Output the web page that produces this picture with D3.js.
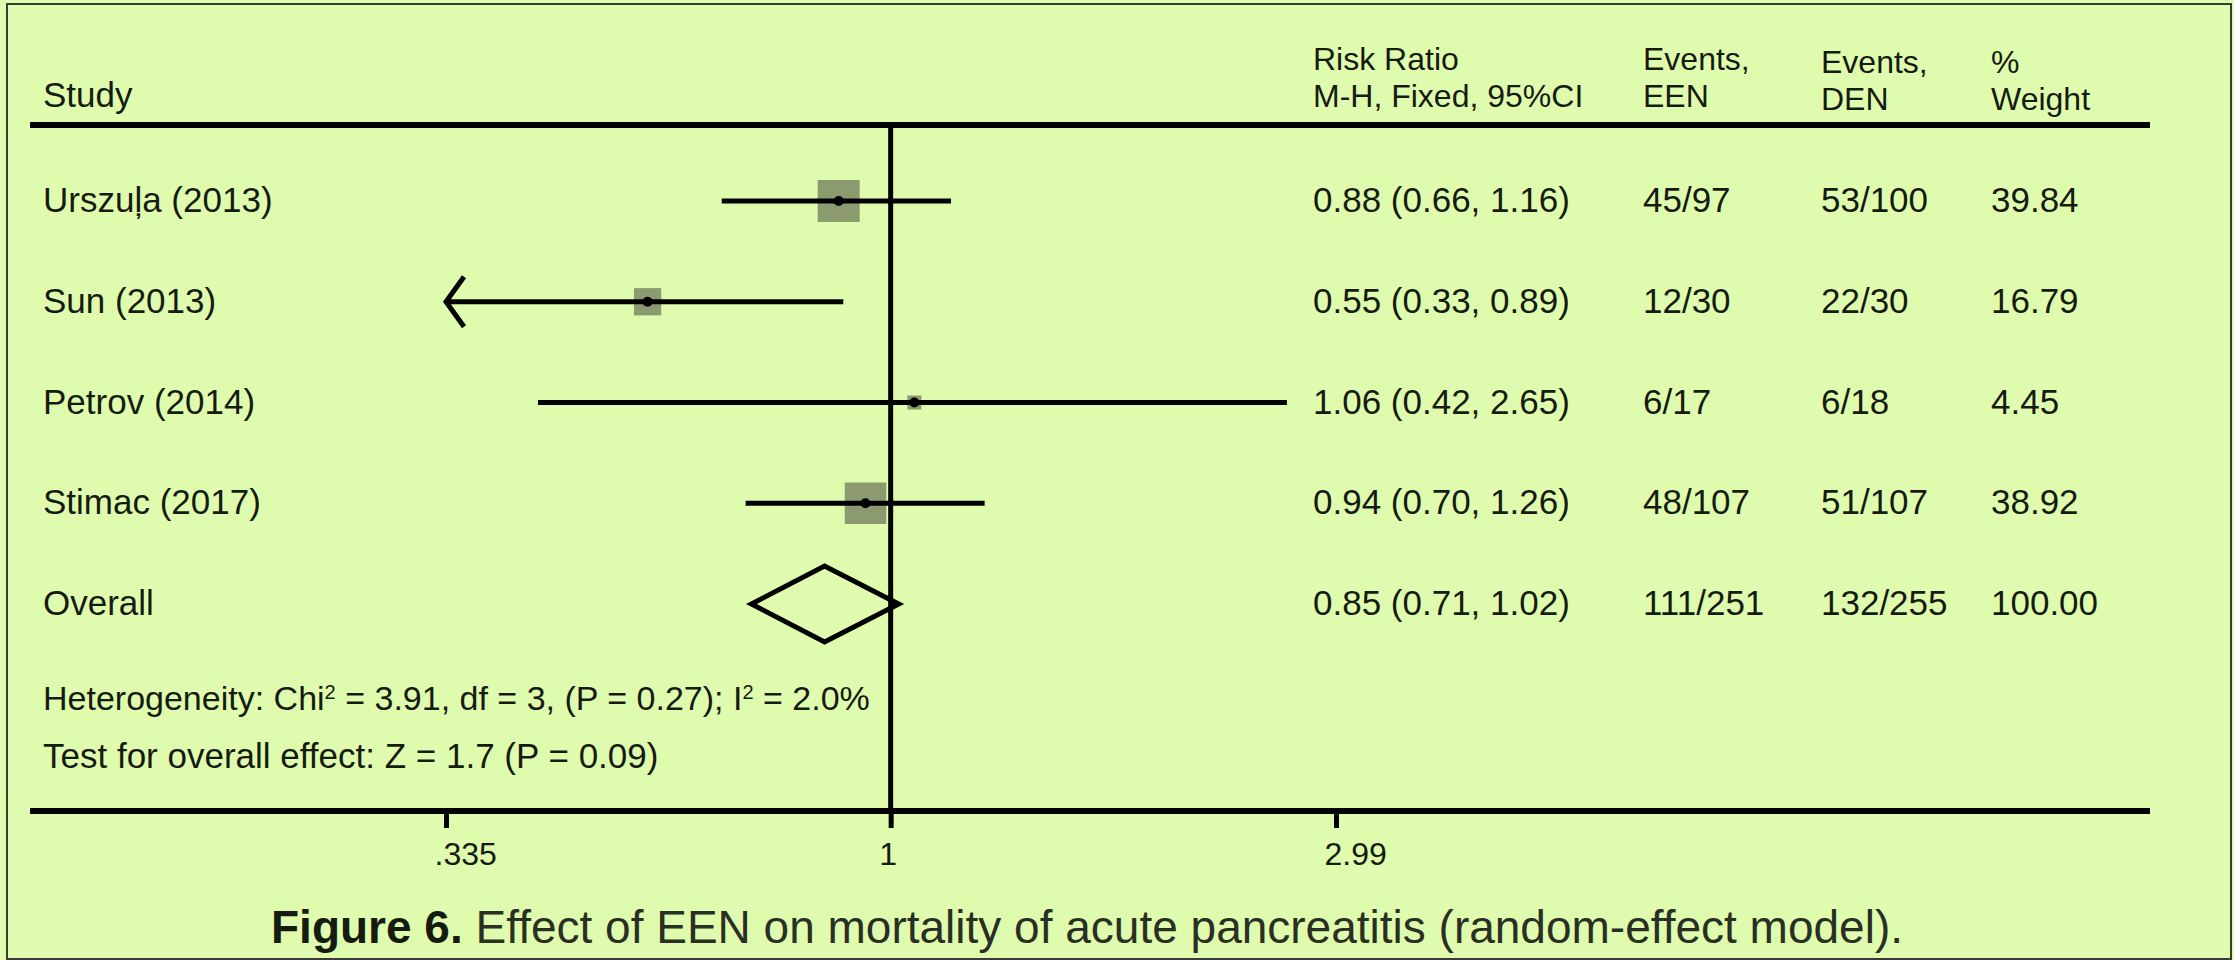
<!DOCTYPE html>
<html>
<head>
<meta charset="utf-8">
<script src="https://cdn.jsdelivr.net/npm/d3@7"></script>
<style>
  html, body { margin: 0; padding: 0; background: #dffbad; }
  svg { display: block; }
  text { font-family: "Liberation Sans", Arial, sans-serif; fill: #161b12; }
</style>
</head>
<body>
<svg id="chart" width="2234" height="960"></svg>
<script>
// Study-level data
const studies   = ["Urszuļa (2013)", "Sun (2013)", "Petrov (2014)", "Stimac (2017)"];
const riskRatio = [0.88, 0.55, 1.06, 0.94];
const ciLower   = [0.66, 0.33, 0.42, 0.70];
const ciUpper   = [1.16, 0.89, 2.65, 1.26];
const eventsEEN = ["45/97", "12/30", "6/17", "48/107"];
const eventsDEN = ["53/100", "22/30", "6/18", "51/107"];
const weights   = [39.84, 16.79, 4.45, 38.92];

// Pooled estimate
const overallLabel  = "Overall";
const overallRR     = 0.85;
const overallLower  = 0.71;
const overallUpper  = 1.02;
const overallEEN    = "111/251";
const overallDEN    = "132/255";
const overallWeight = 100.00;

// Axis
const axisTicks  = [0.335, 1, 2.99];
const tickLabels = [".335", "1", "2.99"];

// Header columns
const headerStudy = "Study";
const headerCols  = [
  ["Risk Ratio", "M-H, Fixed, 95%CI"],
  ["Events,", "EEN"],
  ["Events,", "DEN"],
  ["%", "Weight"]
];

const heterogeneity = ["Heterogeneity: Chi", "2", " = 3.91, df = 3, (P = 0.27); I", "2", " = 2.0%"];
const overallTest   = "Test for overall effect: Z = 1.7 (P = 0.09)";
const captionBold   = "Figure 6.";
const captionText   = " Effect of EEN on mortality of acute pancreatitis (random-effect model).";

const svg = d3.select("#chart");
const W = 2234, H = 960;

// frame
svg.append("rect")
  .attr("x", 7).attr("y", 4).attr("width", W - 10).attr("height", H - 5)
  .attr("fill", "#dffbad").attr("stroke", "#3a3a3a").attr("stroke-width", 2);

// scales
const x = d3.scaleLog().domain([axisTicks[0], axisTicks[2]]).range([446, 1336]);
const y = d3.scaleLinear().domain([0, 4]).range([201, 604]);

const ruleLeft = 30, ruleRight = 2150;
const headerY = 125, bottomY = 811;
const colX = [1313, 1643, 1821, 1991];
const labelX = 43;
const fs = 35;
const headFs = 32;

// header text
svg.append("text").attr("x", labelX).attr("y", 107).attr("font-size", fs).text(headerStudy);
headerCols.forEach((lines, i) => {
  const base = i < 2 ? 70 : 73;
  lines.forEach((t, j) => {
    svg.append("text").attr("x", colX[i]).attr("y", base + j * 37)
      .attr("font-size", headFs).text(t);
  });
});

// horizontal rules
svg.append("line").attr("x1", ruleLeft).attr("x2", ruleRight)
  .attr("y1", headerY).attr("y2", headerY).attr("stroke", "#000").attr("stroke-width", 6);
svg.append("line").attr("x1", ruleLeft).attr("x2", ruleRight)
  .attr("y1", bottomY).attr("y2", bottomY).attr("stroke", "#000").attr("stroke-width", 6);

// axis with ticks below the bottom rule
const axis = d3.axisBottom(x)
  .tickValues(axisTicks)
  .tickFormat((d, i) => tickLabels[i])
  .tickSize(17)
  .tickPadding(14);
const gAxis = svg.append("g").attr("transform", `translate(0,${bottomY})`).call(axis);
gAxis.select(".domain").remove();
gAxis.selectAll(".tick line").attr("stroke", "#000").attr("stroke-width", 5);
gAxis.selectAll(".tick text")
  .attr("font-size", 32)
  .attr("text-anchor", "start")
  .attr("dx", -12)
  .attr("font-family", "Liberation Sans, Arial, sans-serif")
  .attr("fill", "#161b12");

// line of no effect
svg.append("line")
  .attr("x1", x(1)).attr("x2", x(1))
  .attr("y1", headerY).attr("y2", bottomY)
  .attr("stroke", "#000").attr("stroke-width", 5);

// study rows
const [dMin, dMax] = x.domain();
const sideScale = d3.scaleSqrt().domain([0, weights[0]]).range([0, 42]);
const rows = studies.map((s, i) => ({
  label: s, rr: riskRatio[i], lo: ciLower[i], hi: ciUpper[i],
  een: eventsEEN[i], den: eventsDEN[i], w: weights[i], i
}));

const g = svg.append("g");
rows.forEach(r => {
  const cy = y(r.i);
  const side = sideScale(r.w);
  g.append("rect")
    .attr("x", x(r.rr) - side / 2).attr("y", cy - side / 2)
    .attr("width", side).attr("height", side)
    .attr("fill", "#8b9b6f");
  const lo = Math.max(r.lo, dMin), hi = Math.min(r.hi, dMax);
  g.append("line")
    .attr("x1", x(lo)).attr("x2", x(hi)).attr("y1", cy).attr("y2", cy)
    .attr("stroke", "#000").attr("stroke-width", 5);
  if (r.lo < dMin) {
    const ax = x(dMin);
    g.append("path")
      .attr("d", `M${ax + 18},${cy - 25} L${ax},${cy} L${ax + 18},${cy + 25}`)
      .attr("fill", "none").attr("stroke", "#000").attr("stroke-width", 5);
  }
  if (r.hi > dMax) {
    const ax = x(dMax);
    g.append("path")
      .attr("d", `M${ax - 18},${cy - 25} L${ax},${cy} L${ax - 18},${cy + 25}`)
      .attr("fill", "none").attr("stroke", "#000").attr("stroke-width", 5);
  }
  g.append("circle").attr("cx", x(r.rr)).attr("cy", cy).attr("r", 5).attr("fill", "#000");

  const ty = cy + 11;
  g.append("text").attr("x", labelX).attr("y", ty).attr("font-size", fs).text(r.label);
  g.append("text").attr("x", colX[0]).attr("y", ty).attr("font-size", fs)
    .text(`${r.rr.toFixed(2)} (${r.lo.toFixed(2)}, ${r.hi.toFixed(2)})`);
  g.append("text").attr("x", colX[1]).attr("y", ty).attr("font-size", fs).text(r.een);
  g.append("text").attr("x", colX[2]).attr("y", ty).attr("font-size", fs).text(r.den);
  g.append("text").attr("x", colX[3]).attr("y", ty).attr("font-size", fs).text(r.w.toFixed(2));
});

// pooled diamond
const oy = y(4);
const halfH = 38;
g.append("path")
  .attr("d", `M${x(overallLower)},${oy} L${x(overallRR)},${oy - halfH} L${x(overallUpper)},${oy} L${x(overallRR)},${oy + halfH} Z`)
  .attr("fill", "none").attr("stroke", "#000").attr("stroke-width", 5)
  .attr("stroke-linejoin", "miter");
const oty = oy + 11;
g.append("text").attr("x", labelX).attr("y", oty).attr("font-size", fs).text(overallLabel);
g.append("text").attr("x", colX[0]).attr("y", oty).attr("font-size", fs)
  .text(`${overallRR.toFixed(2)} (${overallLower.toFixed(2)}, ${overallUpper.toFixed(2)})`);
g.append("text").attr("x", colX[1]).attr("y", oty).attr("font-size", fs).text(overallEEN);
g.append("text").attr("x", colX[2]).attr("y", oty).attr("font-size", fs).text(overallDEN);
g.append("text").attr("x", colX[3]).attr("y", oty).attr("font-size", fs).text(overallWeight.toFixed(2));

// heterogeneity and overall test
const het = svg.append("text").attr("x", labelX).attr("y", 710).attr("font-size", 34);
heterogeneity.forEach((t, i) => {
  const sp = het.append("tspan").text(t);
  if (i === 1 || i === 3) sp.attr("baseline-shift", "super").attr("font-size", 20);
});
svg.append("text").attr("x", labelX).attr("y", 768).attr("font-size", fs).text(overallTest);

// caption
const cap = svg.append("text").attr("x", 271).attr("y", 943).attr("font-size", 46);
cap.append("tspan").attr("font-weight", "bold").text(captionBold);
cap.append("tspan").attr("fill", "#2a2f24").text(captionText);
</script>
</body>
</html>
